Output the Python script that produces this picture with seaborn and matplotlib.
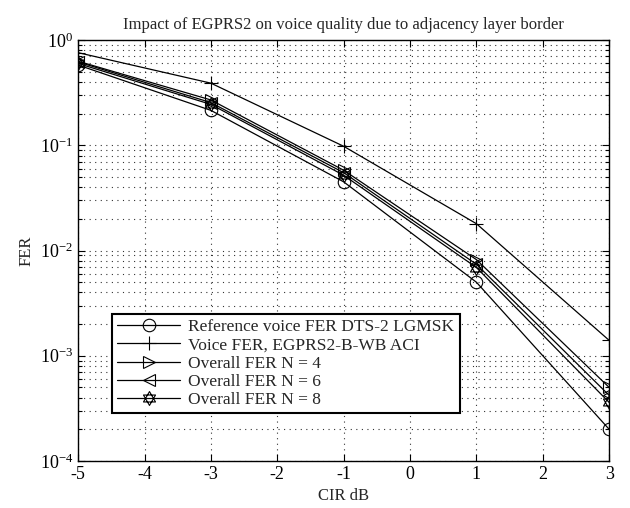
import numpy as np
import pandas as pd
import seaborn as sns
import matplotlib.pyplot as plt
from matplotlib.path import Path
from matplotlib.ticker import LogLocator, NullFormatter

# CIR points and FER per curve
cir = [-5, -3, -1, 1, 3]
ref_fer = [0.58, 0.215, 0.045, 0.005, 0.0002]
voice_fer = [0.76, 0.39, 0.098, 0.018, 0.0014]
n4_fer = [0.63, 0.27, 0.058, 0.0082, 0.0005]
n6_fer = [0.62, 0.255, 0.055, 0.0074, 0.00042]
n8_fer = [0.60, 0.245, 0.052, 0.0069, 0.00036]
labels = ["Reference voice FER DTS-2 LGMSK",
          "Voice FER, EGPRS2-B-WB ACI",
          "Overall FER N = 4",
          "Overall FER N = 6",
          "Overall FER N = 8"]

sns.set_style("ticks")
plt.rcParams['font.family'] = ['Liberation Serif', 'DejaVu Serif']
plt.rcParams['mathtext.fontset'] = 'stix'

# hexagram marker (two overlapping triangles) like MATLAB's 'h'
a = np.deg2rad([90, 210, 330, 90])
b = np.deg2rad([270, 30, 150, 270])
verts = list(zip(np.cos(a), np.sin(a))) + list(zip(np.cos(b), np.sin(b)))
codes = [Path.MOVETO, Path.LINETO, Path.LINETO, Path.CLOSEPOLY] * 2
hexagram = Path(verts, codes)

markers = ['o', '+', '>', '<', hexagram]
sizes = [9, 10, 9, 9, 10]
series = [ref_fer, voice_fer, n4_fer, n6_fer, n8_fer]

fig = plt.figure(figsize=(6.3, 5.08), dpi=100)
ax = fig.add_axes([0.124, 0.0925, 0.843, 0.8285])

for vals, lab, mk, ms in zip(series, labels, markers, sizes):
    df = pd.DataFrame({'CIR': cir, 'FER': vals})
    sns.lineplot(data=df, x='CIR', y='FER', ax=ax, color='black', lw=0.9,
                 marker=mk, markersize=ms, markerfacecolor='none',
                 markeredgecolor='black', markeredgewidth=0.8, label=lab)

ax.set_yscale('log')
ax.set_xlim(-5, 3)
ax.set_ylim(1e-4, 1)
ax.set_xticks(range(-5, 4))
ax.set_xticklabels([str(v) for v in range(-5, 4)])
ax.yaxis.set_major_locator(LogLocator(base=10, numticks=10))
ax.yaxis.set_minor_locator(LogLocator(base=10, subs=np.arange(2, 10), numticks=20))
ax.yaxis.set_minor_formatter(NullFormatter())

dots = (0, (1, 4))
ax.grid(True, which='major', linestyle=dots, color='black', lw=0.8, alpha=0.8)
ax.grid(True, which='minor', axis='y', linestyle=dots, color='black', lw=0.8, alpha=0.8)
ax.tick_params(which='both', direction='in', top=True, right=True, labelsize=13,
               width=0.8, colors='black')
ax.tick_params(which='major', length=5)
ax.tick_params(which='minor', length=3)
for s in ax.spines.values():
    s.set_linewidth(1.0)
    s.set_color('black')

ax.set_xlabel('CIR dB', fontsize=12)
ax.set_ylabel('FER', fontsize=12)
ax.set_title('Impact of EGPRS2 on voice quality due to adjacency layer border',
             fontsize=12, pad=8)

leg = ax.legend(loc='lower left', bbox_to_anchor=(0.064, 0.113), fontsize=12.5,
                frameon=True, fancybox=False, edgecolor='black', framealpha=1,
                borderpad=0.3, labelspacing=0.12, handlelength=3.6,
                handletextpad=0.5, borderaxespad=0)
leg.get_frame().set_linewidth(1.5)

fig.savefig('out.png', dpi=100)
